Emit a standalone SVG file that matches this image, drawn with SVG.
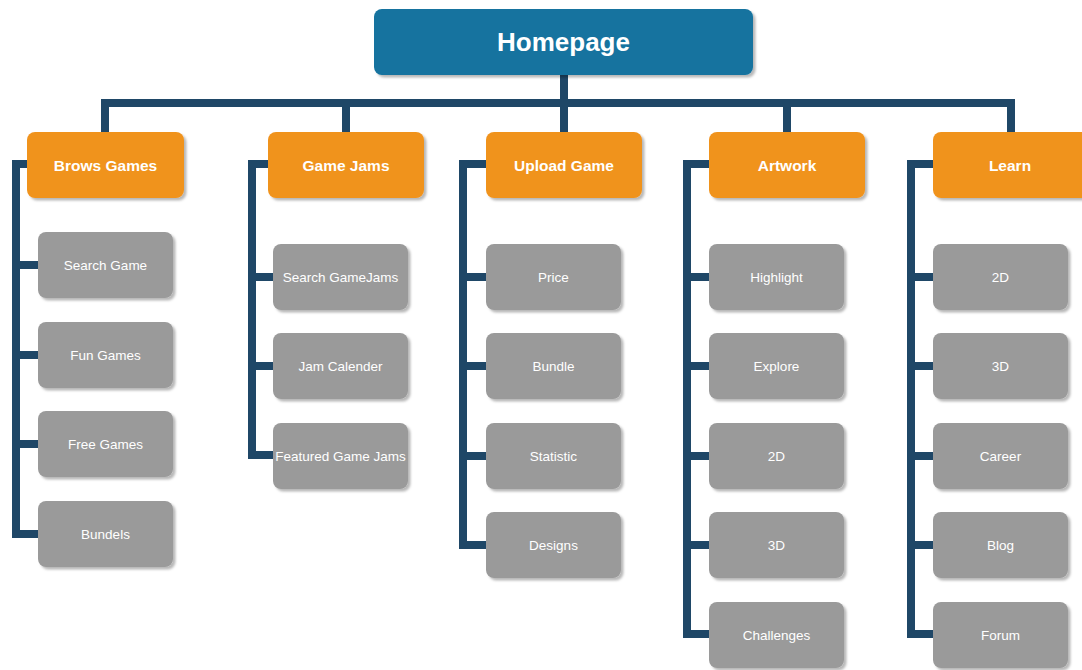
<svg xmlns="http://www.w3.org/2000/svg" width="1082" height="670" viewBox="0 0 1082 670">
  <defs>
    <filter id="shadow" x="-10%" y="-10%" width="130%" height="140%">
      <feDropShadow dx="2.5" dy="2.5" stdDeviation="1" flood-color="#000" flood-opacity="0.28"/>
    </filter>
  </defs>
  <style>
    .link { fill: none; stroke: #1f4767; stroke-width: 8; stroke-linejoin: miter; stroke-linecap: butt; }
    .root rect { fill: #13739f; filter: url(#shadow); }
    .root text { fill: #fff; font: bold 26px "Liberation Sans", Arial, sans-serif; text-anchor: middle; dominant-baseline: central; }
    .cat rect { fill: #f0931e; filter: url(#shadow); }
    .cat text { fill: #fff; font: bold 15.5px "Liberation Sans", Arial, sans-serif; text-anchor: middle; dominant-baseline: central; }
    .leaf rect { fill: #9a9a9a; filter: url(#shadow); }
    .leaf text { fill: #fff; font: 13.5px "Liberation Sans", Arial, sans-serif; text-anchor: middle; dominant-baseline: central; }
  </style>
  <rect width="1082" height="670" fill="#fff"/>

  <!-- connectors -->
  <g id="connectors">
    <path class="link" d="M564 75 V132"/>
    <path class="link" d="M105 132 V103 H1011 V132"/>
    <path class="link" d="M346 103 V132"/>
    <path class="link" d="M787 103 V132"/>
    <!-- Brows Games -->
    <path class="link" d="M27 164 H16 V534 H38"/>
    <path class="link" d="M16 265 H38 M16 355 H38 M16 444 H38"/>
    <!-- Game Jams -->
    <path class="link" d="M268 164 H252 V455 H273"/>
    <path class="link" d="M252 277 H273 M252 366 H273"/>
    <!-- Upload Game -->
    <path class="link" d="M486 164 H463 V545 H486"/>
    <path class="link" d="M463 277 H486 M463 366 H486 M463 456 H486"/>
    <!-- Artwork -->
    <path class="link" d="M709 164 H687 V634 H709"/>
    <path class="link" d="M687 277 H709 M687 366 H709 M687 456 H709 M687 545 H709"/>
    <!-- Learn -->
    <path class="link" d="M933 164 H911 V634 H933"/>
    <path class="link" d="M911 277 H933 M911 366 H933 M911 456 H933 M911 545 H933"/>
  </g>

  <g id="homepage" class="root"><rect x="374" y="9" width="379" height="66" rx="8"/><text x="563.5" y="42">Homepage</text></g>

  <g id="brows-games" class="cat"><rect x="27" y="132" width="157" height="66" rx="8"/><text x="105.5" y="165">Brows Games</text></g>
  <g id="game-jams" class="cat"><rect x="268" y="132" width="156" height="66" rx="8"/><text x="346" y="165">Game Jams</text></g>
  <g id="upload-game" class="cat"><rect x="486" y="132" width="156" height="66" rx="8"/><text x="564" y="165">Upload Game</text></g>
  <g id="artwork" class="cat"><rect x="709" y="132" width="156" height="66" rx="8"/><text x="787" y="165">Artwork</text></g>
  <g id="learn" class="cat"><rect x="933" y="132" width="157" height="66" rx="8"/><text x="1010" y="165">Learn</text></g>

  <!-- Brows Games children -->
  <g id="search-game" class="leaf"><rect x="38" y="232" width="135" height="66" rx="8"/><text x="105.5" y="265">Search Game</text></g>
  <g id="fun-games" class="leaf"><rect x="38" y="322" width="135" height="66" rx="8"/><text x="105.5" y="355">Fun Games</text></g>
  <g id="free-games" class="leaf"><rect x="38" y="411" width="135" height="66" rx="8"/><text x="105.5" y="444">Free Games</text></g>
  <g id="bundels" class="leaf"><rect x="38" y="501" width="135" height="66" rx="8"/><text x="105.5" y="534">Bundels</text></g>

  <!-- Game Jams children -->
  <g id="search-gamejams" class="leaf"><rect x="273" y="244" width="135" height="66" rx="8"/><text x="340.5" y="277">Search GameJams</text></g>
  <g id="jam-calender" class="leaf"><rect x="273" y="333" width="135" height="66" rx="8"/><text x="340.5" y="366">Jam Calender</text></g>
  <g id="featured-game-jams" class="leaf"><rect x="273" y="423" width="135" height="66" rx="8"/><text x="340.5" y="456">Featured Game Jams</text></g>

  <!-- Upload Game children -->
  <g id="price" class="leaf"><rect x="486" y="244" width="135" height="66" rx="8"/><text x="553.5" y="277">Price</text></g>
  <g id="bundle" class="leaf"><rect x="486" y="333" width="135" height="66" rx="8"/><text x="553.5" y="366">Bundle</text></g>
  <g id="statistic" class="leaf"><rect x="486" y="423" width="135" height="66" rx="8"/><text x="553.5" y="456">Statistic</text></g>
  <g id="designs" class="leaf"><rect x="486" y="512" width="135" height="66" rx="8"/><text x="553.5" y="545">Designs</text></g>

  <!-- Artwork children -->
  <g id="highlight" class="leaf"><rect x="709" y="244" width="135" height="66" rx="8"/><text x="776.5" y="277">Highlight</text></g>
  <g id="explore" class="leaf"><rect x="709" y="333" width="135" height="66" rx="8"/><text x="776.5" y="366">Explore</text></g>
  <g id="artwork-2d" class="leaf"><rect x="709" y="423" width="135" height="66" rx="8"/><text x="776.5" y="456">2D</text></g>
  <g id="artwork-3d" class="leaf"><rect x="709" y="512" width="135" height="66" rx="8"/><text x="776.5" y="545">3D</text></g>
  <g id="challenges" class="leaf"><rect x="709" y="602" width="135" height="66" rx="8"/><text x="776.5" y="635">Challenges</text></g>

  <!-- Learn children -->
  <g id="learn-2d" class="leaf"><rect x="933" y="244" width="135" height="66" rx="8"/><text x="1000.5" y="277">2D</text></g>
  <g id="learn-3d" class="leaf"><rect x="933" y="333" width="135" height="66" rx="8"/><text x="1000.5" y="366">3D</text></g>
  <g id="career" class="leaf"><rect x="933" y="423" width="135" height="66" rx="8"/><text x="1000.5" y="456">Career</text></g>
  <g id="blog" class="leaf"><rect x="933" y="512" width="135" height="66" rx="8"/><text x="1000.5" y="545">Blog</text></g>
  <g id="forum" class="leaf"><rect x="933" y="602" width="135" height="66" rx="8"/><text x="1000.5" y="635">Forum</text></g>
</svg>
